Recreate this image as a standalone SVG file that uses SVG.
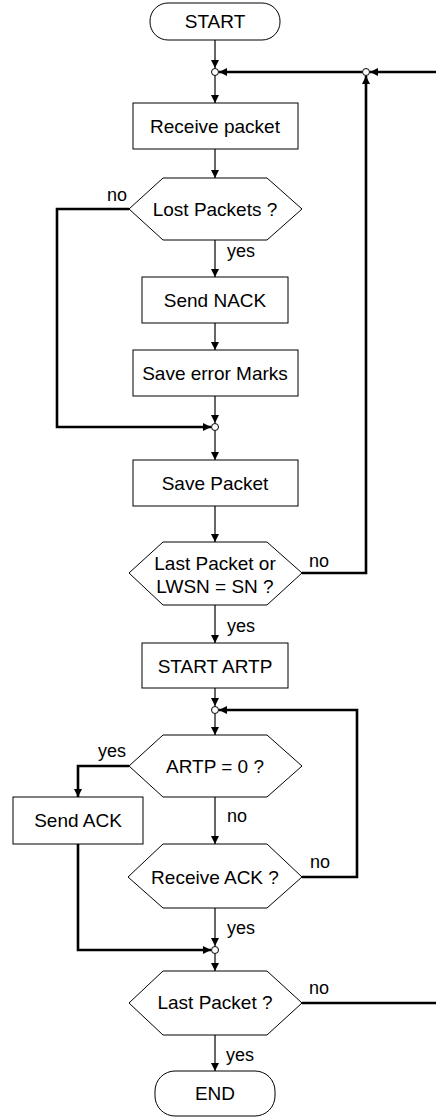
<svg xmlns="http://www.w3.org/2000/svg" width="436" height="1118" viewBox="0 0 436 1118">
<style>
.shape{fill:#fff;stroke:#000;stroke-width:1}
.t{font-family:"Liberation Sans",Arial,sans-serif;font-size:19px;fill:#000;text-anchor:middle}
.lbl{font-family:"Liberation Sans",Arial,sans-serif;font-size:18px;fill:#000}
.thin{fill:none;stroke:#000;stroke-width:1.2}
.thick{fill:none;stroke:#000;stroke-width:2.6}
.jn{fill:#fff;stroke:#000;stroke-width:1}
</style>
<defs>
<marker id="ah" viewBox="0 0 8 8" refX="8" refY="4" markerWidth="8" markerHeight="8" markerUnits="userSpaceOnUse" orient="auto">
<path d="M0,0 L8,4 L0,8 z" fill="#000"/>
</marker>
</defs>
<rect width="436" height="1118" fill="#fff"/>
<g id="connectors">
<path class="thin" d="M215,40 V68" marker-end="url(#ah)"/>
<path class="thin" d="M215,76 V103" marker-end="url(#ah)"/>
<path class="thin" d="M215,149 V178" marker-end="url(#ah)"/>
<path class="thin" d="M215,240 V277" marker-end="url(#ah)"/>
<path class="thin" d="M215,323 V350" marker-end="url(#ah)"/>
<path class="thin" d="M215,396 V423" marker-end="url(#ah)"/>
<path class="thin" d="M215,431 V460" marker-end="url(#ah)"/>
<path class="thin" d="M215,506 V542" marker-end="url(#ah)"/>
<path class="thin" d="M215,605 V643" marker-end="url(#ah)"/>
<path class="thin" d="M215,688 V706" marker-end="url(#ah)"/>
<path class="thin" d="M215,714 V735" marker-end="url(#ah)"/>
<path class="thin" d="M215,797 V844" marker-end="url(#ah)"/>
<path class="thin" d="M215,908 V946" marker-end="url(#ah)"/>
<path class="thin" d="M215,954 V971" marker-end="url(#ah)"/>
<path class="thin" d="M215,1035 V1071" marker-end="url(#ah)"/>
<path class="thick" d="M436,72 H370" marker-end="url(#ah)"/>
<path class="thick" d="M362,72 H219" marker-end="url(#ah)"/>
<path class="thick" d="M302,573 H366 V76" marker-end="url(#ah)"/>
<path class="thick" d="M129,209 H57 V427 H211" marker-end="url(#ah)"/>
<path class="thick" d="M129,766 H78 V797" marker-end="url(#ah)"/>
<path class="thick" d="M78,844 V950 H211" marker-end="url(#ah)"/>
<path class="thick" d="M302,877 H357 V710 H219" marker-end="url(#ah)"/>
<path class="thick" d="M302,1003 H436"/>
<circle class="jn" cx="215" cy="72" r="3.5"/>
<circle class="jn" cx="366" cy="72" r="3.5"/>
<circle class="jn" cx="215" cy="427" r="3.5"/>
<circle class="jn" cx="215" cy="710" r="3.5"/>
<circle class="jn" cx="215" cy="950" r="3.5"/>
<text class="lbl" x="107" y="201">no</text>
<text class="lbl" x="227" y="257">yes</text>
<text class="lbl" x="309" y="567">no</text>
<text class="lbl" x="227" y="632">yes</text>
<text class="lbl" x="98" y="757">yes</text>
<text class="lbl" x="227" y="822">no</text>
<text class="lbl" x="310" y="868">no</text>
<text class="lbl" x="227" y="934">yes</text>
<text class="lbl" x="309" y="994">no</text>
<text class="lbl" x="226" y="1061">yes</text>
</g>
<g id="start">
<rect class="shape" x="150" y="3" width="130" height="37" rx="18" ry="18"/>
<text class="t" x="215" y="28">START</text>
</g>
<g id="receive-packet">
<rect class="shape" x="133" y="103" width="165" height="46"/>
<text class="t" x="215" y="133">Receive packet</text>
</g>
<g id="lost-packets">
<polygon class="shape" points="129,209 163,178 267,178 302,209 267,240 163,240"/>
<text class="t" x="215" y="216">Lost Packets ?</text>
</g>
<g id="send-nack">
<rect class="shape" x="142" y="277" width="146" height="46"/>
<text class="t" x="215" y="307">Send NACK</text>
</g>
<g id="save-error-marks">
<rect class="shape" x="133" y="350" width="165" height="46"/>
<text class="t" x="215" y="380">Save error Marks</text>
</g>
<g id="save-packet">
<rect class="shape" x="133" y="460" width="165" height="46"/>
<text class="t" x="215" y="490">Save Packet</text>
</g>
<g id="last-packet-or">
<polygon class="shape" points="129,573 163,542 267,542 302,573 267,605 163,605"/>
<text class="t" x="215" y="570">Last Packet or</text>
<text class="t" x="215" y="593">LWSN = SN ?</text>
</g>
<g id="start-artp">
<rect class="shape" x="142" y="643" width="146" height="45"/>
<text class="t" x="215" y="673">START ARTP</text>
</g>
<g id="artp-zero">
<polygon class="shape" points="129,766 163,735 267,735 302,766 267,797 163,797"/>
<text class="t" x="215" y="773">ARTP = 0 ?</text>
</g>
<g id="send-ack">
<rect class="shape" x="13" y="797" width="130" height="47"/>
<text class="t" x="78" y="827">Send ACK</text>
</g>
<g id="receive-ack">
<polygon class="shape" points="128,877 163,844 267,844 302,877 267,908 163,908"/>
<text class="t" x="215" y="884">Receive ACK ?</text>
</g>
<g id="last-packet">
<polygon class="shape" points="129,1003 163,971 267,971 302,1003 267,1035 163,1035"/>
<text class="t" x="215" y="1009">Last Packet ?</text>
</g>
<g id="end">
<rect class="shape" x="155" y="1071" width="120" height="45" rx="20" ry="20"/>
<text class="t" x="215" y="1100">END</text>
</g>
</svg>
